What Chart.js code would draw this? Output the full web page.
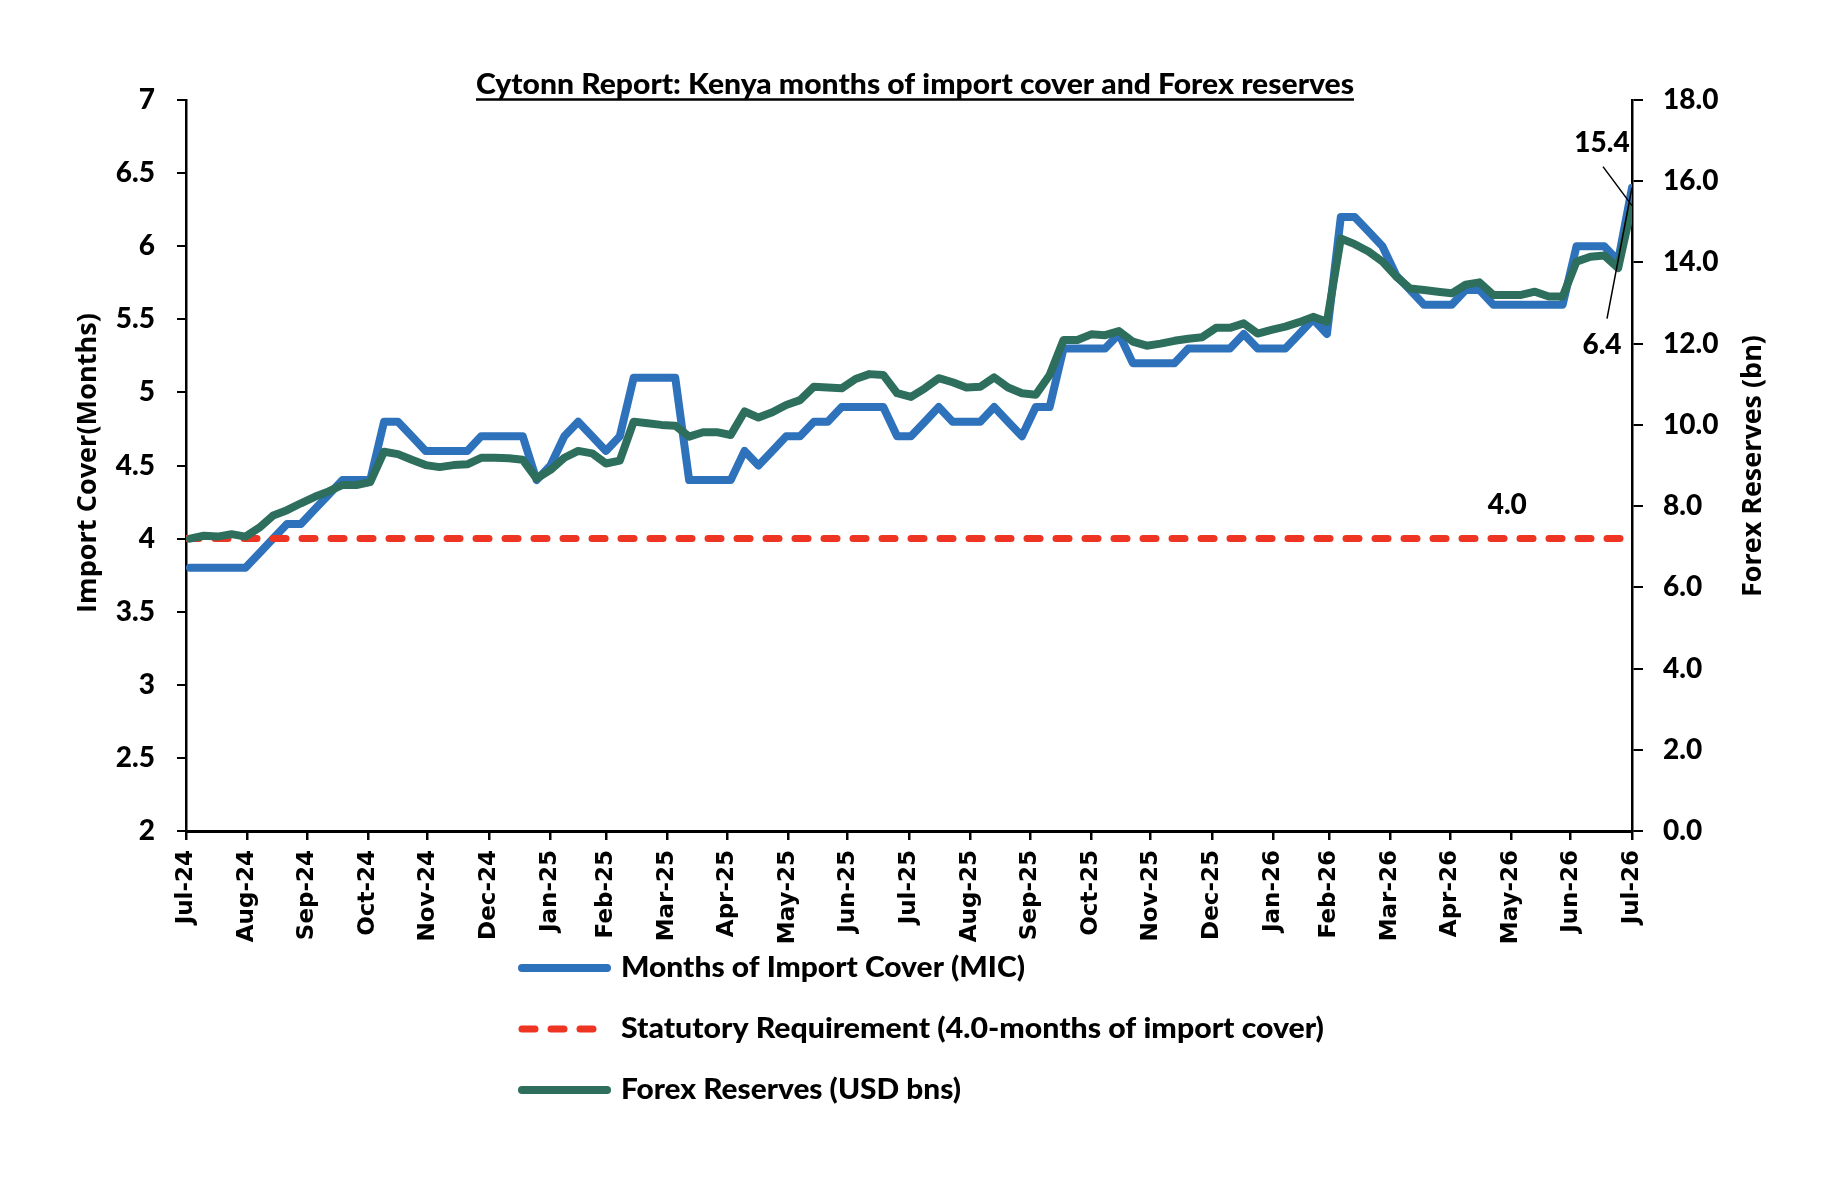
<!DOCTYPE html>
<html>
<head>
<meta charset="utf-8">
<title>Cytonn Report: Kenya months of import cover and Forex reserves</title>
<script src="https://cdn.jsdelivr.net/npm/chart.js@4.4.1/dist/chart.umd.min.js"></script>
<style>
  html, body { margin: 0; padding: 0; background: #fff; }
  #wrap { width: 1826px; height: 1196px; }
</style>
</head>
<body>
<div id="wrap"><canvas id="chart" width="1826" height="1196"></canvas></div>
<script>
// ======================
// Data
// ======================
const chartTitle = "Cytonn Report: Kenya months of import cover and Forex reserves";

// month ticks (month ends), in days from 31 Jul 2024
const monthLabels = ["Jul-24", "Aug-24", "Sep-24", "Oct-24", "Nov-24", "Dec-24",
  "Jan-25", "Feb-25", "Mar-25", "Apr-25", "May-25", "Jun-25",
  "Jul-25", "Aug-25", "Sep-25", "Oct-25", "Nov-25", "Dec-25",
  "Jan-26", "Feb-26", "Mar-26", "Apr-26", "May-26", "Jun-26", "Jul-26"];
const monthDays = [0, 31, 61, 92, 122, 153, 184, 212, 243, 273, 304, 334,
  365, 396, 426, 457, 487, 518, 549, 577, 608, 638, 669, 699, 730];

// Months of import cover, weekly
const importCover = [
  3.8, 3.8, 3.8, 3.8, 3.8, 3.9, 4.0, 4.1, 4.1, 4.2,
  4.3, 4.4, 4.4, 4.4, 4.8, 4.8, 4.7, 4.6, 4.6, 4.6,
  4.6, 4.7, 4.7, 4.7, 4.7, 4.4, 4.5, 4.7, 4.8, 4.7,
  4.6, 4.7, 5.1, 5.1, 5.1, 5.1, 4.4, 4.4, 4.4, 4.4,
  4.6, 4.5, 4.6, 4.7, 4.7, 4.8, 4.8, 4.9, 4.9, 4.9,
  4.9, 4.7, 4.7, 4.8, 4.9, 4.8, 4.8, 4.8, 4.9, 4.8,
  4.7, 4.9, 4.9, 5.3, 5.3, 5.3, 5.3, 5.4, 5.2, 5.2,
  5.2, 5.2, 5.3, 5.3, 5.3, 5.3, 5.4, 5.3, 5.3, 5.3,
  5.4, 5.5, 5.4, 6.2, 6.2, 6.1, 6.0, 5.8, 5.7, 5.6,
  5.6, 5.6, 5.7, 5.7, 5.6, 5.6, 5.6, 5.6, 5.6, 5.6,
  6.0, 6.0, 6.0, 5.9, 6.4
];

// Forex reserves (USD bn), weekly
const forexReserves = [
  7.20, 7.27, 7.25, 7.31, 7.25, 7.47, 7.77, 7.90, 8.07, 8.23,
  8.36, 8.52, 8.52, 8.59, 9.34, 9.28, 9.14, 9.01, 8.96, 9.01,
  9.03, 9.19, 9.19, 9.18, 9.14, 8.68, 8.89, 9.19, 9.36, 9.30,
  9.05, 9.12, 10.08, 10.04, 10.00, 9.98, 9.71, 9.82, 9.82, 9.75,
  10.33, 10.18, 10.31, 10.49, 10.61, 10.94, 10.92, 10.90, 11.13, 11.25,
  11.23, 10.78, 10.69, 10.90, 11.15, 11.05, 10.92, 10.94, 11.17, 10.92,
  10.78, 10.74, 11.23, 12.09, 12.09, 12.23, 12.21, 12.31, 12.05, 11.95,
  12.00, 12.07, 12.12, 12.16, 12.39, 12.39, 12.50, 12.25, 12.34, 12.42,
  12.53, 12.66, 12.54, 14.59, 14.45, 14.27, 14.02, 13.65, 13.36, 13.32,
  13.28, 13.24, 13.45, 13.51, 13.20, 13.20, 13.20, 13.28, 13.16, 13.16,
  14.02, 14.14, 14.17, 13.86, 15.40
];

// Statutory requirement (months), across the whole period
const statutoryCover = [4.0, 4.0];
const statutoryDays = [monthDays[0], monthDays[monthDays.length - 1]];

// weekly observation dates (days from 31 Jul 2024)
const firstWeekDay = 2;
const weekDays = importCover.map((v, i) => firstWeekDay + 7 * i);

const seriesNames = ["Months of Import Cover (MIC)",
  "Statutory Requirement (4.0-months of import cover)",
  "Forex Reserves (USD bns)"];

// ======================
// Styles
// ======================
const BLUE = "#2E72BC";
const RED = "#EE3524";
const GREEN = "#2D6E5C";
const NUM_FONT = "Lato";
const NUM_WEIGHT = "900";
const WIDE_FONT = "'Open Sans'";

function pts(xs, ys) {
  return ys.map((y, i) => ({ x: xs[i], y: y }));
}

// draw heavy text squeezed/stretched to a given width
function drawFitted(ctx, text, x, y, width, size, family, align) {
  ctx.save();
  ctx.font = NUM_WEIGHT + " " + size + "px " + family;
  const w = ctx.measureText(text).width;
  ctx.translate(x, y);
  ctx.scale(width / w, 1);
  ctx.textAlign = align || "left";
  ctx.textBaseline = "alphabetic";
  ctx.fillStyle = "#000";
  ctx.fillText(text, 0, 0);
  ctx.restore();
}

// draw rotated (bottom-to-top) text fitted to a length
function drawVertical(ctx, text, cx, cy, length, family) {
  ctx.save();
  ctx.font = "bold 26px " + family;
  const size = 26 * length / ctx.measureText(text).width;
  ctx.font = "bold " + size + "px " + family;
  ctx.translate(cx, cy);
  ctx.rotate(-Math.PI / 2);
  ctx.textAlign = "center";
  ctx.textBaseline = "middle";
  ctx.fillStyle = "#000";
  ctx.fillText(text, 0, 0);
  ctx.restore();
}

// ======================
// Decorations: title, axis titles, labels, legend
// ======================
const chartDecor = {
  id: "chartDecor",
  afterDraw(chart) {
    const ctx = chart.ctx;
    const x = chart.scales.x;
    const yL = chart.scales.y;
    const yR = chart.scales.y1;

    // title with underline
    drawFitted(ctx, chartTitle, 915, 94, 878, 28, NUM_FONT, "center");
    ctx.save();
    ctx.strokeStyle = "#000";
    ctx.lineWidth = 2.5;
    ctx.beginPath();
    ctx.moveTo(476, 99.5);
    ctx.lineTo(1354, 99.5);
    ctx.stroke();
    ctx.restore();

    // axis titles
    drawVertical(ctx, "Import Cover(Months)", 88, 463, 300, WIDE_FONT);
    drawVertical(ctx, "Forex Reserves (bn)", 1753, 466, 262, WIDE_FONT);

    // last-point labels with leader lines
    const last = weekDays.length - 1;
    const gx = x.getPixelForValue(weekDays[last]);
    const gy = yR.getPixelForValue(forexReserves[last]);
    const by = yL.getPixelForValue(importCover[last]);
    ctx.save();
    ctx.strokeStyle = "#000";
    ctx.lineWidth = 1.5;
    ctx.beginPath();
    ctx.moveTo(gx, gy);
    ctx.lineTo(gx - 29, gy - 39);
    ctx.moveTo(gx, by);
    ctx.lineTo(gx - 25, by + 131);
    ctx.stroke();
    ctx.fillStyle = "#000";
    ctx.font = NUM_WEIGHT + " 28px " + NUM_FONT;
    ctx.textAlign = "center";
    ctx.textBaseline = "middle";
    ctx.fillText(forexReserves[last].toFixed(1), gx - 30, gy - 63);
    ctx.fillText(importCover[last].toFixed(1), gx - 30, by + 157);
    // statutory label, above the line
    ctx.fillText(statutoryCover[0].toFixed(1), x.getPixelForValue(weekDays[95]), yL.getPixelForValue(statutoryCover[0]) - 34);
    ctx.restore();

    // legend
    const legendY = [968, 1029, 1090];
    const legendW = [404, 703, 340];
    const legendColors = [BLUE, RED, GREEN];
    ctx.save();
    ctx.lineCap = "round";
    legendY.forEach((ly, i) => {
      ctx.strokeStyle = legendColors[i];
      if (i === 1) {
        ctx.lineWidth = 7;
        ctx.setLineDash([13, 16]);
      } else {
        ctx.lineWidth = 8;
        ctx.setLineDash([]);
      }
      ctx.beginPath();
      ctx.moveTo(522, ly);
      ctx.lineTo(607, ly);
      ctx.stroke();
      drawFitted(ctx, seriesNames[i], 621, ly + 9, legendW[i], 28, NUM_FONT, "left");
    });
    ctx.restore();
  }
};

// ======================
// Chart
// ======================
new Chart(document.getElementById("chart"), {
  type: "line",
  data: {
    datasets: [
      {
        label: seriesNames[2],
        data: pts(weekDays, forexReserves),
        yAxisID: "y1",
        borderColor: GREEN,
        borderWidth: 8,
        order: 0
      },
      {
        label: seriesNames[1],
        data: pts(statutoryDays, statutoryCover),
        yAxisID: "y",
        borderColor: RED,
        borderWidth: 7,
        borderDash: [13, 16],
        borderCapStyle: "round",
        order: 1
      },
      {
        label: seriesNames[0],
        data: pts(weekDays, importCover),
        yAxisID: "y",
        borderColor: BLUE,
        borderWidth: 8,
        order: 2
      }
    ]
  },
  options: {
    responsive: false,
    animation: false,
    devicePixelRatio: 1,
    layout: { padding: { top: 100, left: 0, right: 0, bottom: 0 } },
    elements: {
      point: { radius: 0, hoverRadius: 0 },
      line: { tension: 0, borderJoinStyle: "round", borderCapStyle: "round", fill: false }
    },
    plugins: {
      legend: { display: false },
      tooltip: { enabled: false },
      title: { display: false }
    },
    scales: {
      x: {
        type: "linear",
        position: "bottom",
        min: monthDays[0],
        max: monthDays[monthDays.length - 1],
        afterBuildTicks: (scale) => {
          scale.ticks = monthDays.map(d => ({ value: d }));
        },
        afterFit: (scale) => { scale.height = 365; },
        ticks: {
          autoSkip: false,
          maxRotation: 90,
          minRotation: 90,
          padding: 10,
          color: "#000",
          font: { family: "DejaVu Sans", weight: "bold", size: 23 },
          callback: (value, index) => monthLabels[index]
        },
        grid: { drawOnChartArea: false, drawTicks: true, tickLength: 9, color: "#000", lineWidth: 2.5 },
        border: { display: true, color: "#000", width: 3 }
      },
      y: {
        position: "left",
        min: 2,
        max: 7,
        afterFit: (scale) => { scale.width = 186; },
        ticks: {
          stepSize: 0.5,
          padding: 22,
          color: "#000",
          font: { family: NUM_FONT, weight: NUM_WEIGHT, size: 28 },
          callback: (v) => String(Number(v.toFixed(1)))
        },
        grid: { drawOnChartArea: false, drawTicks: true, tickLength: 9, color: "#000", lineWidth: 2 },
        border: { display: true, color: "#000", width: 2.5 }
      },
      y1: {
        position: "right",
        min: 0,
        max: 18,
        afterFit: (scale) => { scale.width = 194; },
        ticks: {
          stepSize: 2,
          padding: 20,
          color: "#000",
          font: { family: NUM_FONT, weight: NUM_WEIGHT, size: 28 },
          callback: (v) => v.toFixed(1)
        },
        grid: { drawOnChartArea: false, drawTicks: true, tickLength: 11, color: "#000", lineWidth: 2 },
        border: { display: true, color: "#000", width: 2.5 }
      }
    }
  },
  plugins: [chartDecor]
});
</script>
</body>
</html>
